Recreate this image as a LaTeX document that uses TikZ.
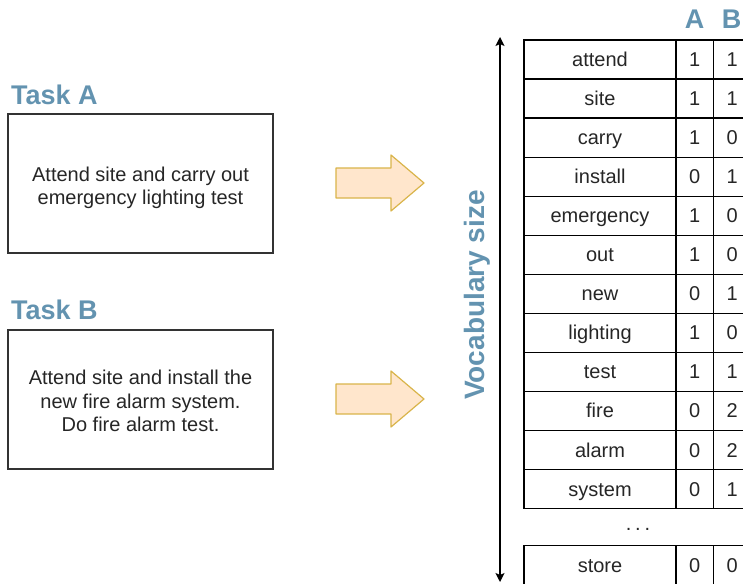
\documentclass[tikz,border=0pt]{standalone}
\usepackage{fontspec}
\setmainfont{Liberation Sans}
\usetikzlibrary{arrows.meta}

\definecolor{titleblue}{HTML}{6393B0}
\definecolor{arrowfill}{HTML}{FFE6CC}
\definecolor{arrowline}{HTML}{D9B44A}
\definecolor{ink}{HTML}{262626}
\definecolor{frame}{HTML}{333333}

\tikzset{
  body/.style={font=\fontsize{20}{23.5}\selectfont, text=ink},
  heading/.style={font=\fontsize{27}{30}\selectfont\bfseries, text=titleblue, inner sep=0pt},
  taskbox/.style={draw=frame, line width=1.1pt, minimum width=265, minimum height=139, inner sep=0pt},
  tasktext/.style={body, align=center, inner sep=0pt},
  cell/.style={body, draw=black, line width=1.1pt, minimum height=39, inner sep=0pt,
    text height=14.4pt, text depth=0pt, anchor=center},
  wordcell/.style={cell, minimum width=152},
  countcell/.style={cell, minimum width=37.5},
  bigarrow/.style={draw=arrowline, fill=arrowfill, line width=1.2pt, line join=round},
}

\begin{document}
\begin{tikzpicture}[x=1pt, y=-1pt]
  \useasboundingbox (0,0) rectangle (743,583);
  \clip (0,0) rectangle (743,583);

  % task descriptions
  \node[heading, anchor=west] (titleA) at (11,95) {Task A};
  \node[taskbox] (taskA) at (140.5,183.5) {};
  \node[tasktext] (textA) at (140.5,188) {Attend site and carry out\\emergency lighting test};
  \node[heading, anchor=west] (titleB) at (11,309.5) {Task B};
  \node[taskbox] (taskB) at (140.5,399.5) {};
  \node[tasktext] (textB) at (140.5,401) {Attend site and install the\\new fire alarm system.\\Do fire alarm test.};

  % block arrows
  \foreach \cy in {183,399}{
    \draw[bigarrow] (336,\cy-15) -- (391,\cy-15) -- (391,\cy-28) -- (424,\cy)
      -- (391,\cy+28) -- (391,\cy+15) -- (336,\cy+15) -- cycle;
  }

  % vocabulary axis
  \coordinate (vtop) at (500,37);
  \coordinate (vbot) at (500,582);
  \draw[line width=1.3pt, {Stealth[length=9pt,width=9pt,inset=2pt]}-{Stealth[length=9pt,width=9pt,inset=2pt]}] (vtop) -- (vbot);
  \node[heading, font=\fontsize{28}{30}\selectfont\bfseries, rotate=90] (vlabel) at (477,295) {Vocabulary size};

  % column headers
  \node[heading] (hA) at (694.5,19) {A};
  \node[heading] (hB) at (731.5,19) {B};

  % term counts
  \foreach \w/\a/\b [count=\i] in {attend/1/1, site/1/1, carry/1/0, install/0/1,
      emergency/1/0, out/1/0, new/0/1, lighting/1/0, test/1/1, fire/0/2,
      alarm/0/2, system/0/1}{
    \pgfmathsetmacro{\cy}{40+39.03*(\i-0.5)}
    \node[wordcell]  (w\i) at (600,\cy) {\w};
    \node[countcell] (a\i) at (694.75,\cy) {\a};
    \node[countcell] (b\i) at (732.25,\cy) {\b};
  }

  \node[body, inner sep=0pt] (dots) at (638,529) {.\kern3.8pt.\kern3.8pt.};

  \node[wordcell]  (wstore) at (600,564.8) {store};
  \node[countcell] (astore) at (694.75,564.8) {0};
  \node[countcell] (bstore) at (732.25,564.8) {0};
\end{tikzpicture}
\end{document}
